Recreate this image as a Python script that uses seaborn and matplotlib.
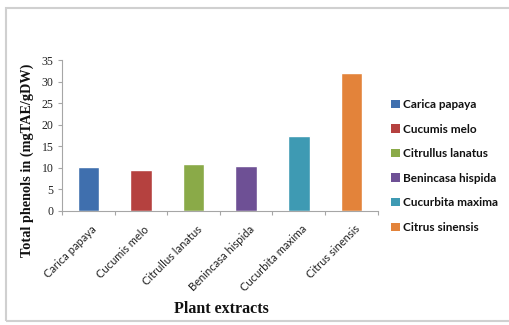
import matplotlib
matplotlib.use("Agg")
import matplotlib.pyplot as plt
from matplotlib.patches import Rectangle, Patch
import seaborn as sns
import pandas as pd

plants = ["Carica papaya", "Cucumis melo", "Citrullus lanatus",
          "Benincasa hispida", "Cucurbita maxima", "Citrus sinensis"]
phenols = [10.2, 9.5, 10.9, 10.4, 17.4, 32.0]
colors = ["#3F6FAE", "#B5413F", "#8AAA48", "#6E5095", "#3E9AB3", "#E3833A"]
y_ticks = [0, 5, 10, 15, 20, 25, 30, 35]

df = pd.DataFrame({"plant": plants, "phenols": phenols})

sns.set_theme(style="white")
plt.rcParams["font.family"] = ["DejaVu Sans"]

fig = plt.figure(figsize=(5.1, 3.25), dpi=100)
ax = fig.add_axes([0.1216, 0.352, 0.619, 0.463])

sns.barplot(data=df, x="plant", y="phenols", hue="plant", palette=colors,
            dodge=False, width=0.41, legend=False, ax=ax, saturation=1)

ax.set_ylim(0, 35)
ax.set_yticks(y_ticks)
ax.set_yticklabels([str(t) for t in y_ticks], fontfamily="Liberation Serif",
                   fontsize=8.5, color="#222222")
ax.set_xlim(-0.5, len(plants) - 0.5)
ax.set_xticks([i - 0.5 for i in range(len(plants) + 1)], minor=False)
ax.set_xticklabels([""] * (len(plants) + 1))
for i, name in enumerate(plants):
    ax.text(i + 0.05, -3.0, name, rotation=45, ha="right", va="top",
            rotation_mode="anchor", fontfamily="Lato", fontsize=8,
            color="#222222")

for side in ["top", "right"]:
    ax.spines[side].set_visible(False)
for side in ["left", "bottom"]:
    ax.spines[side].set_color("#a6a6a6")
    ax.spines[side].set_linewidth(0.8)
ax.tick_params(axis="both", which="major", direction="out", length=3,
               width=0.8, color="#a6a6a6", left=True, bottom=True, pad=3)

ax.set_xlabel("")
ax.set_ylabel("")
fig.text(27 / 510, 1 - 160 / 325, "Total phenols in (mgTAE/gDW)",
         rotation=90, ha="center", va="center",
         fontfamily="Liberation Serif", fontweight="bold", fontsize=10.3,
         color="#111111")
fig.text(221 / 510, 1 - 309 / 325, "Plant extracts", ha="center",
         va="center", fontfamily="Liberation Serif", fontweight="bold",
         fontsize=11.5, color="#111111")

handles = [Patch(facecolor=c, edgecolor="none", label=p)
           for p, c in zip(plants, colors)]
leg = fig.legend(handles=handles, loc="upper left",
                 bbox_to_anchor=(0.758, 0.71), frameon=False,
                 prop={"family": "Lato", "weight": "bold", "size": 8.5},
                 handlelength=0.7, handleheight=0.7, handletextpad=0.25,
                 labelspacing=1.15, borderaxespad=0)
for t in leg.get_texts():
    t.set_color("#111111")

# light grey frame around the chart area
fig.patches.append(Rectangle((6.5 / 510, 4 / 325), 1.1, 313 / 325,
                             transform=fig.transFigure, fill=False,
                             edgecolor="#d0d0d0", linewidth=1.5,
                             clip_on=False))

fig.savefig("out.png", dpi=100)
